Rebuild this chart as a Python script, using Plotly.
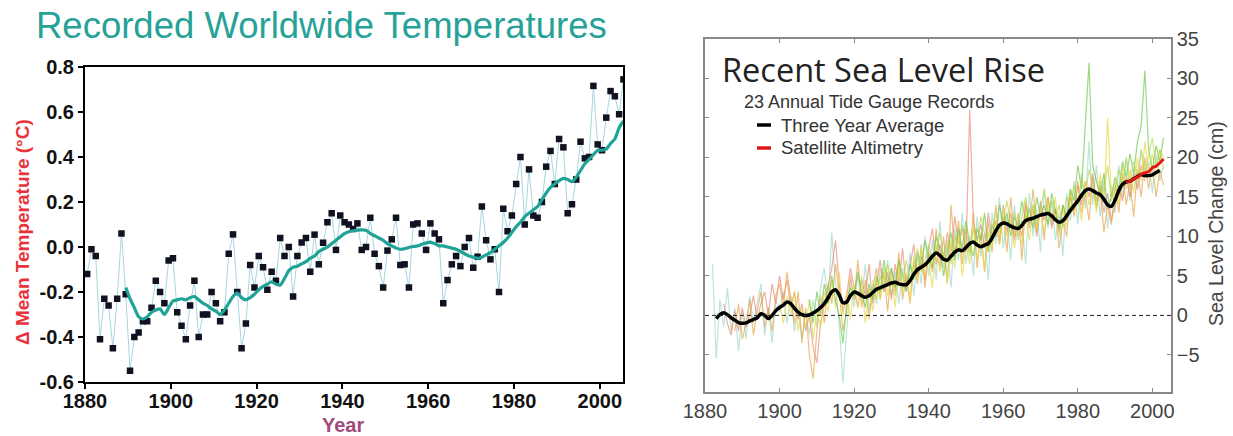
import plotly.graph_objects as go

# ---------------- Left chart: temperatures ----------------
temp_years = list(range(1880, 2006))
temp_values = [
    -0.12, -0.01, -0.04, -0.41, -0.23, -0.26, -0.45, -0.23, 0.06, -0.21,   # 1880-1889
    -0.55, -0.40, -0.38, -0.33, -0.33, -0.27, -0.15, -0.20, -0.25, -0.06,  # 1890-1899
    -0.05, -0.29, -0.35, -0.41, -0.26, -0.15, -0.40, -0.30, -0.30, -0.20,  # 1900-1909
    -0.25, -0.33, -0.29, -0.03, 0.056, -0.20, -0.45, -0.34, -0.08, -0.18,  # 1910-1919
    -0.04, -0.09, -0.19, -0.11, -0.15, 0.04, -0.04, 0.00, -0.22, -0.04,    # 1920-1929
    0.02, 0.04, -0.11, 0.055, -0.077, 0.019, 0.11, 0.15, -0.013, 0.14,     # 1930-1939
    0.11, 0.10, 0.08, 0.105, -0.013, 0.00, 0.13, -0.03, -0.085, -0.18,     # 1940-1949
    -0.016, 0.034, 0.13, -0.08, -0.077, -0.18, 0.10, 0.105, 0.06, -0.013,  # 1950-1959
    0.105, 0.06, 0.034, -0.25, -0.147, -0.077, -0.04, -0.085, 0.00, 0.04,  # 1960-1969
    -0.092, -0.043, 0.18, 0.03, -0.055, -0.01, -0.20, 0.17, 0.07, 0.14,    # 1970-1979
    0.28, 0.40, 0.10, 0.345, 0.14, 0.13, 0.20, 0.357, 0.427, 0.28,         # 1980-1989
    0.48, 0.443, 0.15, 0.19, 0.30, 0.468, 0.394, 0.40, 0.716, 0.456,       # 1990-1999
    0.43, 0.575, 0.693, 0.67, 0.59, 0.745,                                 # 2000-2005
]
smooth_years = list(range(1889, 2006))
smooth_values = [
    -0.18,                                                                 # 1889
    -0.23, -0.27, -0.31, -0.32, -0.31, -0.29, -0.28, -0.275, -0.30, -0.27, # 1890s
    -0.24, -0.235, -0.23, -0.235, -0.225, -0.22, -0.235, -0.25, -0.26, -0.275,
    -0.285, -0.30, -0.28, -0.25, -0.22, -0.205, -0.225, -0.235, -0.225, -0.21,
    -0.19, -0.175, -0.165, -0.155, -0.165, -0.17, -0.14, -0.105, -0.09, -0.085,
    -0.075, -0.065, -0.05, -0.04, -0.02, -0.01, 0.0, 0.015, 0.03, 0.045,
    0.06, 0.068, 0.072, 0.075, 0.076, 0.074, 0.06, 0.05, 0.04, 0.03,
    0.015, 0.005, -0.005, -0.01, -0.008, -0.002, 0.002, 0.005, 0.012, 0.018,
    0.022, 0.015, 0.005, 0.005, 0.0, -0.005, -0.01, -0.02, -0.03, -0.04,
    -0.045, -0.05, -0.045, -0.035, -0.025, -0.01, 0.005, 0.02, 0.04, 0.065,
    0.09, 0.11, 0.135, 0.15, 0.165, 0.18, 0.21, 0.24, 0.265, 0.28,
    0.295, 0.305, 0.30, 0.29, 0.31, 0.34, 0.37, 0.39, 0.41, 0.43,
    0.43, 0.435, 0.46, 0.48, 0.53, 0.56,
]
temp_xticks = [1880, 1900, 1920, 1940, 1960, 1980, 2000]
temp_yticks = [-0.6, -0.4, -0.2, 0.0, 0.2, 0.4, 0.6, 0.8]
temp_ytick_labels = ["-0.6", "-0.4", "-0.2", "0.0", "0.2", "0.4", "0.6", "0.8"]

# ---------------- Right chart: sea level ----------------
avg_years = list(range(1883, 2003))
avg_values = [
    -0.4, 0.1, 0.35, 0.1, -0.3, -0.6, -0.9,                     # 1883-1889
    -1.0, -0.95, -0.7, -0.5, -0.3, 0.2, 0.0, -0.4, 0.0, 0.6,    # 1890s
    1.0, 1.3, 1.7, 1.5, 0.9, 0.4, 0.1, 0.0, 0.05, 0.3,          # 1900s
    0.6, 1.0, 1.5, 2.2, 3.0, 3.25, 2.6, 1.6, 1.7, 2.5,          # 1910s
    2.95, 2.8, 2.5, 2.3, 2.5, 2.9, 3.3, 3.5, 3.7, 3.9,          # 1920s
    4.1, 4.2, 4.0, 3.9, 3.9, 4.4, 5.2, 5.8, 6.1, 6.4,           # 1930s
    6.9, 7.5, 7.9, 7.6, 7.1, 7.0, 7.5, 8.0, 8.3, 8.2,           # 1940s
    8.6, 9.1, 9.3, 8.9, 8.7, 8.9, 9.1, 9.8, 10.7, 11.4,         # 1950s
    11.7, 11.6, 11.3, 11.1, 11.0, 11.4, 12.0, 12.2, 12.3, 12.5, # 1960s
    12.7, 12.8, 12.9, 12.6, 12.1, 11.8, 12.0, 12.6, 13.3, 13.9, # 1970s
    14.5, 15.2, 15.8, 16.0, 15.8, 15.5, 15.3, 14.7, 14.0, 13.8, # 1980s
    14.6, 15.8, 16.6, 16.9, 17.0, 17.3, 17.6, 17.85, 17.7, 17.7,# 1990s
    17.8, 18.1, 18.35,                                          # 2000-2002
]
sat_years = list(range(1993, 2004))
sat_values = [16.8, 17.0, 17.3, 17.5, 17.9, 18.1, 18.2, 18.7, 18.9, 19.3, 19.8]

gauge1_start = 1882
gauge1 = [
    6.5, -5.5, 2.0, -1.5, 3.5, -2.0, 1.0, -4.5, 0.5, -3.0,
    2.5, -1.0, 1.5, 4.0, -2.5, 1.0, -3.5, 2.0, 0.5, 3.0,
    -1.0, 2.5, -2.0, 1.0, -3.0, 0.5, -2.5, 2.0, -1.5, 3.5,
    6.0, 1.5, 10.5, 4.0, -1.0, -8.5, -2.0, 4.5, 1.0, 5.0,
    2.0, 6.5, 0.5, 4.0, 1.5, 6.0, 3.0, 7.0, 2.5, 5.5,
    1.5, 6.0, 3.0, 8.0, 2.5, 7.5, 4.0, 10.0, 5.0, 9.5,
    4.5, 12.0, 6.0, 9.0, 3.5, 11.0, 7.0, 13.0, 6.5, 10.0,
    5.0, 12.5, 7.5, 10.5, 4.5, 13.0, 9.0, 15.0, 8.5, 12.5,
    7.0, 14.0, 9.5, 12.0, 6.5, 15.5, 10.0, 13.5, 8.0, 16.0,
    11.0, 14.5, 9.5, 13.0, 7.5, 15.5, 12.0, 17.0, 11.5, 18.0,
    13.5, 22.0, 14.0, 19.0, 12.5, 17.0, 11.0, 16.5, 13.0, 19.0,
    15.0, 20.0, 14.5, 18.5, 16.0, 21.0, 17.5, 19.5, 15.5, 20.5,
    17.0, 19.0,
]
gauge2_start = 1888
gauge2 = [
    -2.0, 1.5, -3.0, -1.0, 2.0, -2.5, 0.5, 3.0, -1.5, 1.0,
    -2.0, 2.5, 4.0, 1.0, 5.5, 2.0, -1.0, 3.0, -3.5, 1.0,
    -5.0, -8.0, -2.0, 2.5, -1.0, 4.0, 1.5, 6.5, 3.0, -2.0,
    0.5, 5.0, 2.0, 7.0, 1.0, 4.5, -0.5, 3.5, 6.0, 2.0,
    5.5, 0.5, 6.0, 3.0, 8.0, 2.0, 5.0, 1.5, 7.0, 4.0,
    9.0, 3.5, 8.0, 5.5, 11.0, 6.0, 10.0, 4.0, 14.0, 7.5,
    12.0, 6.5, 11.0, 8.0, 13.0, 6.0, 10.5, 5.5, 12.0, 8.0,
    14.0, 9.5, 12.5, 8.0, 15.0, 10.0, 13.0, 7.0, 14.5, 11.0,
    16.0, 10.5, 14.0, 9.5, 15.0, 11.5, 13.5, 8.5, 12.0, 10.0,
    15.5, 12.5, 17.0, 13.0, 15.5, 12.0, 17.5, 13.5, 16.0, 10.5,
    14.0, 11.5, 16.5, 13.0, 18.0, 14.0, 17.0, 12.5, 18.5, 15.0,
    20.0, 16.0, 19.0, 15.0, 18.5, 16.5,
]
gauge3_start = 1900
gauge3 = [
    1.5, -1.0, 2.5, 0.0, 3.0, -2.0, 1.0, -1.5, 2.0, -3.0,
    0.5, -1.5, 3.0, 0.5, 4.5, 1.0, 5.5, 0.0, 3.0, -0.5,
    4.0, 1.0, 5.0, -1.0, 3.5, 0.5, 4.5, 2.0, 6.0, 2.5,
    5.0, 1.0, 6.5, 3.0, 5.5, 2.0, 7.5, 4.5, 8.5, 5.0,
    7.0, 3.5, 9.0, 5.5, 8.0, 4.0, 9.5, 6.0, 10.5, 5.0,
    9.0, 6.5, 11.5, 7.0, 10.0, 6.0, 10.5, 8.5, 12.0, 9.0,
    13.5, 10.0, 12.0, 8.5, 11.5, 9.0, 13.0, 9.5, 14.0, 11.0,
    13.0, 10.5, 14.5, 12.0, 15.0, 10.0, 13.5, 11.0, 16.0, 13.0,
    15.0, 12.0, 17.0, 14.0, 16.5, 13.0, 18.0, 14.5, 25.0, 15.0,
    17.0, 14.0, 19.0, 16.0, 18.5, 15.5, 20.0, 17.0, 22.0, 18.0,
    20.5, 17.5, 21.0, 18.5,
]
gauge4_start = 1908
gauge4 = [
    2.0, -1.0, 3.0, 0.0, 4.0, 1.5, 5.0, 2.0, 0.0, -3.5,
    1.5, 3.5, 2.5, 5.5, 3.0, 1.0, 4.0, 2.0, 5.0, 3.0,
    7.0, 4.0, 6.0, 3.5, 7.0, 5.0, 3.0, 6.5, 4.5, 8.0,
    6.0, 9.5, 7.5, 6.0, 10.0, 8.5, 5.0, 8.0, 10.5, 7.0,
    11.0, 8.5, 12.0, 9.0, 7.5, 11.0, 9.5, 13.0, 8.0, 11.5,
    10.0, 14.0, 11.5, 13.0, 10.0, 12.5, 11.0, 14.5, 12.0, 13.5,
    11.0, 15.0, 12.5, 14.0, 11.5, 15.5, 13.0, 11.0, 14.0, 12.5,
    16.0, 14.5, 19.0, 16.0, 24.0, 32.0, 19.0, 17.0, 15.0, 18.0,
    13.5, 15.0, 17.5, 16.0, 19.5, 17.5, 20.5, 18.0, 22.0, 24.0,
    31.0, 21.0, 18.5, 21.5, 19.5, 22.5,
]
gauge5_start = 1885
gauge5 = [
    1.5, -1.0, -2.5, 0.5, -2.0, 1.0, -1.5, 0.0, 2.5, -0.5,
    1.5, 3.0, 0.0, 4.0, 1.5, 5.0, 2.0, 4.5, 1.0, 3.0,
    -0.5, 1.5, -2.0, 0.0, -4.0, -6.0, -1.0, 1.5, 3.5, 6.0,
    9.5, 4.0, 0.5, 2.5, 6.0, 3.5, 1.0, 4.5, 2.5, 6.5,
    1.5, 4.0, 7.0, 3.0, 5.5, 2.0, 6.5, 4.0, 8.5, 3.5,
    6.0, 9.0, 5.0, 7.5, 4.5, 8.5, 11.0, 6.5, 9.0, 7.0,
    10.5, 8.0, 12.5, 9.0, 11.0, 8.0, 26.0, 12.0, 9.5, 11.5,
    8.5, 13.0, 10.0, 12.0, 9.0, 14.0, 10.5, 13.0, 9.5, 12.0,
    10.0, 14.0, 11.5, 13.5, 10.0, 14.5, 12.0, 15.0, 11.0, 13.5,
    10.5, 14.0, 12.0, 15.0, 13.0, 16.5, 14.0, 17.0, 15.0, 18.0,
    14.5, 16.5, 13.0, 15.5, 12.0, 14.0, 16.5, 14.5, 17.5, 15.0,
    18.0, 16.0, 19.0, 17.0,
]
gauge6_start = 1925
gauge6 = [
    4.5, 2.0, 5.0, 3.0, 6.5, 4.0, 2.5, 5.5, 3.5, 7.0,
    4.5, 6.0, 8.5, 5.5, 7.0, 9.0, 6.5, 8.0, 10.5, 7.5,
    9.5, 6.5, 10.0, 8.0, 11.5, 9.5, 7.5, 11.0, 9.0, 12.5,
    10.0, 8.0, 11.0, 13.0, 10.5, 12.0, 14.5, 11.5, 13.0, 10.0,
    12.5, 15.0, 12.0, 14.0, 11.5, 13.5, 16.0, 13.0, 14.5, 12.0,
    14.0, 11.0, 15.0, 13.5, 16.5, 14.0, 17.5, 15.0, 18.5, 16.0,
    14.0, 17.0, 15.5, 19.0, 14.5, 16.0, 18.5, 16.5, 20.0, 17.0,
    19.5, 17.5, 21.0, 18.0, 20.5, 22.5, 19.0, 21.0, 20.0,
]
gauge_records = [
    (gauge1_start, gauge1, "rgba(150,215,200,0.65)"),
    (gauge5_start, gauge5, "rgba(230,120,100,0.6)"),
    (gauge2_start, gauge2, "rgba(230,160,60,0.65)"),
    (gauge3_start, gauge3, "rgba(232,215,70,0.7)"),
    (gauge4_start, gauge4, "rgba(100,196,60,0.65)"),
    (gauge6_start, gauge6, "rgba(185,215,70,0.65)"),
]
sea_xticks = [1880, 1900, 1920, 1940, 1960, 1980, 2000]
sea_yticks = [-5, 0, 5, 10, 15, 20, 25, 30, 35]

# ---------------- Figure ----------------
W, H = 1233, 436
fig = go.Figure()

fig.add_trace(go.Scatter(
    x=[y + 0.5 for y in temp_years], y=temp_values, mode="lines+markers",
    line=dict(color="#a6d6de", width=1),
    marker=dict(symbol="square", size=6.5, color="#111122"),
    xaxis="x", yaxis="y", showlegend=False, hoverinfo="skip"))
fig.add_trace(go.Scatter(
    x=[y + 0.5 for y in smooth_years], y=smooth_values, mode="lines",
    line=dict(color="#1fa396", width=3.2, shape="spline", smoothing=0.6),
    xaxis="x", yaxis="y", showlegend=False, hoverinfo="skip"))

for start, vals, col in gauge_records:
    fig.add_trace(go.Scatter(
        x=list(range(start, start + len(vals))), y=vals, mode="lines",
        line=dict(color=col, width=1.2),
        xaxis="x2", yaxis="y2", showlegend=False, hoverinfo="skip"))

fig.add_trace(go.Scatter(
    x=avg_years, y=avg_values, mode="lines",
    line=dict(color="black", width=3.5, shape="spline", smoothing=0.8),
    xaxis="x2", yaxis="y2", showlegend=False, hoverinfo="skip"))
fig.add_trace(go.Scatter(
    x=sat_years, y=sat_values, mode="lines",
    line=dict(color="#e01818", width=3),
    xaxis="x2", yaxis="y2", showlegend=False, hoverinfo="skip"))

def px_x(p):
    return p / W

def px_y(p):
    return 1 - p / H

fig.update_layout(
    template="none",
    width=W, height=H, autosize=False,
    margin=dict(l=0, r=0, t=0, b=0, pad=0),
    paper_bgcolor="white", plot_bgcolor="white",
    font=dict(family="Liberation Sans, Arial, sans-serif"),
    xaxis=dict(
        domain=[px_x(85), px_x(623)], range=[1880, 2005.4], automargin=False,
        tickvals=temp_xticks, ticks="outside", ticklen=5, tickwidth=2,
        tickcolor="black", showline=True, linecolor="black", linewidth=2,
        mirror=True, showgrid=False, zeroline=False, ticklabelstandoff=-5,
        tickfont=dict(size=20, color="#111", weight="bold"),
        anchor="y",
    ),
    yaxis=dict(
        domain=[px_y(382), px_y(67)], range=[-0.6, 0.8], automargin=False,
        tickvals=temp_yticks, ticktext=temp_ytick_labels,
        ticks="outside", ticklen=5, tickwidth=2, tickcolor="black",
        showline=True, linecolor="black", linewidth=2, mirror=True,
        showgrid=False, zeroline=False,
        tickfont=dict(size=20, color="#111", weight="bold"),
        anchor="x",
    ),
    xaxis2=dict(
        domain=[px_x(705), px_x(1171)], range=[1880, 2005], automargin=False,
        tickvals=sea_xticks, ticks="inside", ticklen=4, tickwidth=1,
        tickcolor="#888", showline=True, linecolor="#888", linewidth=1.5,
        mirror="ticks", showgrid=False, zeroline=False,
        tickfont=dict(size=20, color="#444"),
        anchor="y2",
    ),
    yaxis2=dict(
        domain=[px_y(392), px_y(39)], range=[-9.7, 35], automargin=False,
        tickvals=sea_yticks, side="right", ticks="inside", ticklen=4,
        tickwidth=1, tickcolor="#888", showline=True, linecolor="#888",
        linewidth=1.5, mirror="ticks", showgrid=False, zeroline=False,
        tickfont=dict(size=20, color="#444"),
        anchor="x2",
    ),
    shapes=[
        dict(type="line", xref="x2 domain", yref="y2", x0=0, x1=1, y0=0, y1=0,
             line=dict(color="#222", width=1, dash="4px,3px"), layer="above"),
        dict(type="line", xref="paper", yref="paper", x0=px_x(757), x1=px_x(771),
             y0=px_y(125), y1=px_y(125), line=dict(color="black", width=3.5)),
        dict(type="line", xref="paper", yref="paper", x0=px_x(757), x1=px_x(771),
             y0=px_y(148), y1=px_y(148), line=dict(color="#e01818", width=3.5)),
    ],
    annotations=[
        dict(text="Recorded Worldwide Temperatures", xref="paper", yref="paper",
             x=px_x(34), y=px_y(26), xanchor="left", yanchor="middle",
             showarrow=False, font=dict(size=36.5, color="#26a297")),
        dict(text="Δ Mean Temperature (°C)", xref="paper", yref="paper",
             x=px_x(22), y=px_y(232), xanchor="center", yanchor="middle",
             textangle=-90, showarrow=False,
             font=dict(size=19, color="#e8333c", weight="bold")),
        dict(text="Year", xref="paper", yref="paper",
             x=px_x(343), y=px_y(425), xanchor="center", yanchor="middle",
             showarrow=False, font=dict(size=20, color="#a04c7c", weight="bold")),
        dict(text="Recent Sea Level Rise", xref="paper", yref="paper",
             x=px_x(720), y=px_y(69), xanchor="left", yanchor="middle",
             showarrow=False,
             font=dict(family="Open Sans, Noto Sans, sans-serif", size=32.5, color="#222")),
        dict(text="23 Annual Tide Gauge Records", xref="paper", yref="paper",
             x=px_x(742), y=px_y(102), xanchor="left", yanchor="middle",
             showarrow=False, font=dict(size=18, color="#333")),
        dict(text="Three Year Average", xref="paper", yref="paper",
             x=px_x(779), y=px_y(125), xanchor="left", yanchor="middle",
             showarrow=False, font=dict(size=18.5, color="#333")),
        dict(text="Satellite Altimetry", xref="paper", yref="paper",
             x=px_x(779), y=px_y(148), xanchor="left", yanchor="middle",
             showarrow=False, font=dict(size=18.5, color="#333")),
        dict(text="Sea Level Change (cm)", xref="paper", yref="paper",
             x=px_x(1216), y=px_y(224), xanchor="center", yanchor="middle",
             textangle=-90, showarrow=False, font=dict(size=19.5, color="#444")),
    ],
)

fig.write_html(
    "out.html",
    config={"displayModeBar": False},
    post_script="document.body.style.margin='0px';document.body.style.padding='0px';document.body.style.overflow='hidden';",
)
